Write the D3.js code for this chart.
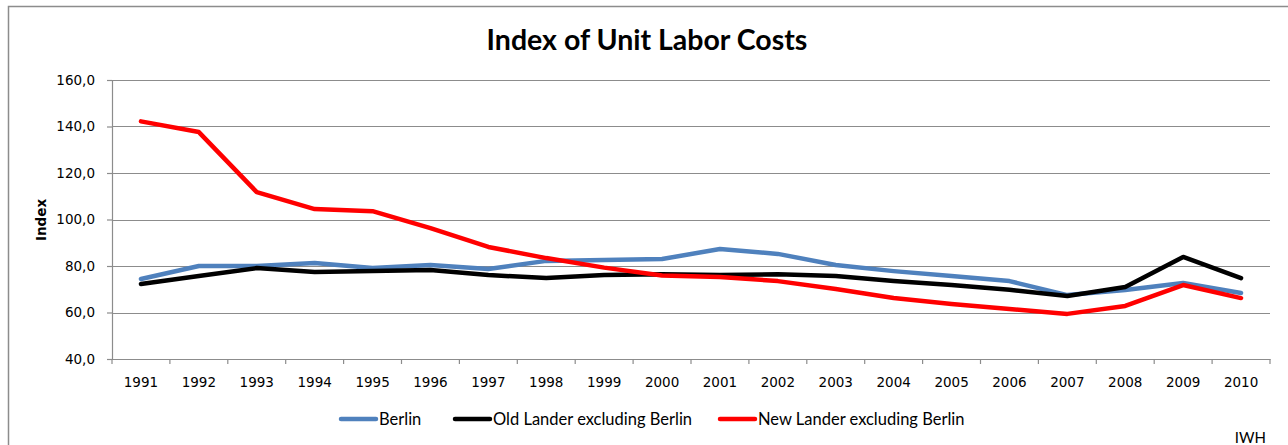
<!DOCTYPE html>
<html>
<head>
<meta charset="utf-8">
<script src="https://cdn.jsdelivr.net/npm/d3@7"></script>
<style>
  body { margin: 0; background: #fff; }
  svg { display: block; }
  .tick text { font-family: "DejaVu Sans", Verdana, sans-serif; font-size: 13.5px; fill: #000; }
</style>
</head>
<body>
<div id="chart"></div>
<script>
var years = ['1991','1992','1993','1994','1995','1996','1997','1998','1999','2000',
             '2001','2002','2003','2004','2005','2006','2007','2008','2009','2010'];
var berlin = [74.4, 80.0, 80.0, 81.3, 79.1, 80.4, 78.7, 82.2, 82.6, 83.0,
              87.3, 85.2, 80.4, 77.8, 75.7, 73.5, 67.5, 69.7, 72.7, 68.4];
var oldLander = [72.3, 75.7, 79.1, 77.4, 77.8, 78.3, 76.1, 74.8, 76.1, 76.4,
                 76.1, 76.4, 75.7, 73.5, 71.8, 69.8, 67.1, 71.0, 83.9, 74.8];
var newLander = [142.2, 137.6, 111.8, 104.5, 103.6, 96.3, 88.2, 83.4, 79.3, 75.9,
                 75.3, 73.5, 70.1, 66.2, 63.7, 61.5, 59.4, 62.8, 71.8, 66.2];
var yTicks = [40, 60, 80, 100, 120, 140, 160];

var series = [
  { name: 'Berlin', values: berlin, color: '#4F81BD' },
  { name: 'Old Lander excluding Berlin', values: oldLander, color: '#000000' },
  { name: 'New Lander excluding Berlin', values: newLander, color: '#FF0000' }
];

var width = 1288, height = 445;
var margin = { top: 80, right: 18, bottom: 86, left: 112 };
var plotW = width - margin.left - margin.right;
var plotH = height - margin.top - margin.bottom;

var svg = d3.select('#chart').append('svg')
    .attr('width', width)
    .attr('height', height);

// chart area border
svg.append('rect')
    .attr('x', 8.5).attr('y', 6.5)
    .attr('width', width + 20).attr('height', height + 20)
    .attr('fill', 'none')
    .attr('stroke', '#8c8c8c')
    .attr('stroke-width', 1.5);

var x = d3.scaleBand().domain(years).range([0, plotW]);
var y = d3.scaleLinear().domain([40, 160]).range([plotH, 0]);

var g = svg.append('g')
    .attr('transform', 'translate(' + margin.left + ',' + margin.top + ')');

// gridlines
g.selectAll('.grid')
    .data(yTicks.slice(1))
    .enter().append('line')
    .attr('x1', 0).attr('x2', plotW)
    .attr('y1', function(d) { return Math.round(y(d)) + 0.5; })
    .attr('y2', function(d) { return Math.round(y(d)) + 0.5; })
    .attr('stroke', '#8c8c8c')
    .attr('stroke-width', 1.2);

var yAxis = d3.axisLeft(y).tickValues(yTicks).tickSize(5).tickPadding(12)
    .tickFormat(function(d) { return d3.format('.1f')(d).replace('.', ','); });
var gy = g.append('g').call(yAxis);
gy.selectAll('.domain, .tick line').attr('stroke', '#8c8c8c').attr('stroke-width', 1.2);

var xAxis = d3.axisBottom(x).tickSize(0).tickPadding(18);
var gx = g.append('g').attr('transform', 'translate(0,' + plotH + ')').call(xAxis);
gx.select('.domain').attr('stroke', '#8c8c8c').attr('stroke-width', 1.2);
// ticks between categories
gx.selectAll('.sep')
    .data(years.concat(['end']))
    .enter().append('line')
    .attr('x1', function(d, i) { return i * x.step(); })
    .attr('x2', function(d, i) { return i * x.step(); })
    .attr('y1', 0).attr('y2', 5)
    .attr('stroke', '#8c8c8c').attr('stroke-width', 1.2);

var line = d3.line()
    .x(function(d, i) { return x(years[i]) + x.bandwidth() / 2; })
    .y(function(d) { return y(d); });

series.forEach(function(s) {
  g.append('path')
      .datum(s.values)
      .attr('fill', 'none')
      .attr('stroke', s.color)
      .attr('stroke-width', 4.5)
      .attr('stroke-linejoin', 'round')
      .attr('stroke-linecap', 'round')
      .attr('d', line);
});

// title
svg.append('text')
    .attr('x', 647).attr('y', 50)
    .attr('text-anchor', 'middle')
    .style('font-family', 'Lato, "Open Sans", sans-serif')
    .style('font-weight', 'bold')
    .style('font-size', '28.5px')
    .text('Index of Unit Labor Costs');

// y axis label
svg.append('text')
    .attr('transform', 'translate(46,220) rotate(-90)')
    .attr('text-anchor', 'middle')
    .style('font-family', '"DejaVu Sans", sans-serif')
    .style('font-weight', 'bold')
    .style('font-size', '13.5px')
    .text('Index');

// legend
var legendX = [341, 455, 720];
series.forEach(function(s, i) {
  svg.append('line')
      .attr('x1', legendX[i]).attr('x2', legendX[i] + 35)
      .attr('y1', 419).attr('y2', 419)
      .attr('stroke', s.color)
      .attr('stroke-width', 4.5)
      .attr('stroke-linecap', 'round');
  svg.append('text')
      .attr('x', legendX[i] + 38).attr('y', 425)
      .style('font-family', 'Lato, sans-serif')
      .style('font-size', '16.5px')
      .text(s.name);
});

svg.append('text')
    .attr('x', 1266).attr('y', 443)
    .attr('text-anchor', 'end')
    .style('font-family', 'Lato, sans-serif')
    .style('font-size', '15px')
    .text('IWH');
</script>
</body>
</html>
